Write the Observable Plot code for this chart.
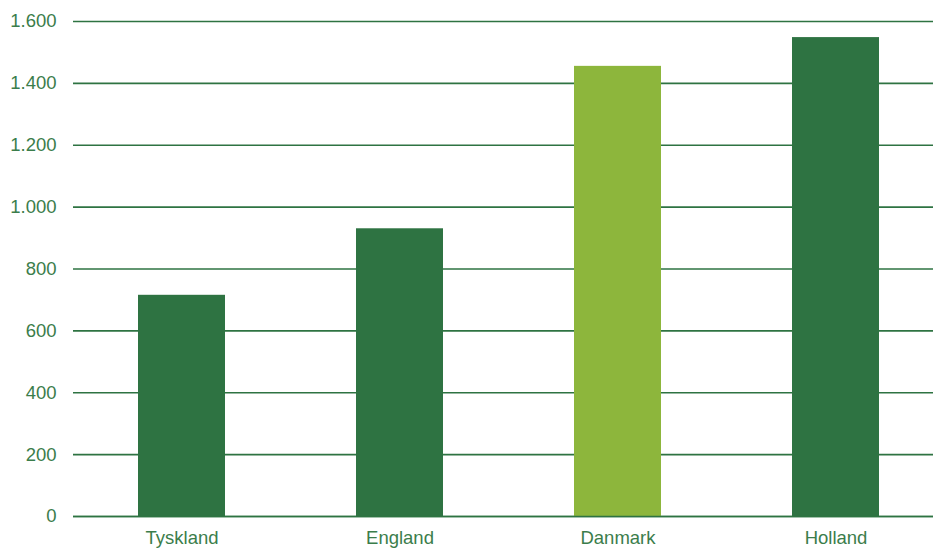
<!DOCTYPE html>
<html>
<head>
<meta charset="utf-8">
<script src="https://cdn.jsdelivr.net/npm/d3@7"></script>
<script src="https://cdn.jsdelivr.net/npm/@observablehq/plot@0.6"></script>
<style>
  html, body { margin: 0; padding: 0; background: #fff; overflow: hidden; }
  #chart svg { display: block; }
</style>
</head>
<body>
<div id="chart"></div>
<script>
const countries = ["Tyskland", "England", "Danmark", "Holland"];
const values = [715, 930, 1455, 1548];
const barColors = ["#2e7342", "#2e7342", "#8db63c", "#2e7342"];
const yTicks = [0, 200, 400, 600, 800, 1000, 1200, 1400, 1600];

const data = countries.map((c, i) => ({country: c, value: values[i], color: barColors[i]}));
const fmt = d3.formatLocale({decimal: ",", thousands: ".", grouping: [3], currency: ["", " kr"]}).format(",");

const textColor = "#3b7d4b";
const gridColor = "#2e7342";

const chart = Plot.plot({
  width: 933,
  height: 548,
  marginLeft: 73,
  marginRight: 0,
  marginTop: 21,
  marginBottom: 32,
  style: {fontFamily: "'Liberation Sans', Arial, sans-serif", fontSize: "18.5px", color: textColor, background: "#fff"},
  x: {domain: countries, range: [73, 945], paddingInner: 0.6, paddingOuter: 0.3, label: null},
  y: {domain: [0, 1600], label: null},
  marks: [
    Plot.ruleY(yTicks, {stroke: gridColor, strokeWidth: 1.6}),
    Plot.barY(data, {x: "country", y: "value", fill: "color"}),
    Plot.ruleY([0], {stroke: gridColor, strokeWidth: 1.6}),
    Plot.axisY({ticks: yTicks, tickSize: 0, tickPadding: 17, tickFormat: fmt, label: null, fill: textColor}),
    Plot.axisX({tickSize: 0, tickPadding: 14, label: null, fill: textColor})
  ]
});
document.getElementById("chart").appendChild(chart);
</script>
</body>
</html>
